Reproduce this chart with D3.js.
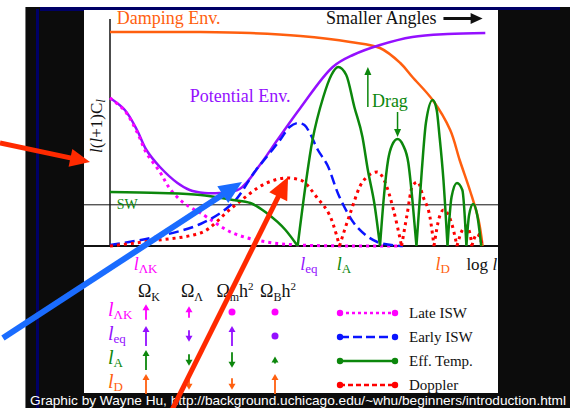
<!DOCTYPE html>
<html>
<head>
<meta charset="utf-8">
<script src="https://cdn.jsdelivr.net/npm/d3@7"></script>
<style>
  body { margin: 0; background: #fff; }
  svg { display: block; }
  text { font-family: "Liberation Serif", "Times New Roman", serif; }
  text.credit { font-family: "Liberation Sans", Arial, sans-serif; }
</style>
</head>
<body>
<div id="chart"></div>
<script>
// x values are log10(l), y values are l(l+1)C_l in arbitrary units
const dampingEnv = [[0.70,107],[1.37,107],[1.74,106.5],[2.11,105],[2.48,102],[2.70,99],[2.85,91.5],[2.94,84.5],[3.09,73],[3.22,58],[3.29,43],[3.37,27],[3.43,13],[3.46,0]];
const potentialEnv = [[0.70,74],[0.81,68],[0.90,58],[0.97,48],[1.07,39.5],[1.20,31.5],[1.29,28],[1.40,26.5],[1.51,26.5],[1.66,28.5],[1.81,40.5],[1.94,53],[2.11,69],[2.35,89.5],[2.50,95.5],[2.70,100.5],[2.94,104.5],[3.20,106],[3.48,106.5]];
const lateISW = [[0.70,74],[0.81,67.5],[0.90,57],[0.97,46.5],[1.07,37],[1.14,29],[1.22,23],[1.29,19.5],[1.37,16.5],[1.61,6.5],[1.86,2],[2.11,0.5],[2.48,0],[2.85,0]];
const earlyISW = [[0.70,0.5],[1.00,4],[1.37,11],[1.61,21.5],[1.77,37],[1.86,44.5],[1.96,53],[2.03,59.5],[2.09,61.5],[2.14,60.5],[2.18,56.5],[2.24,48],[2.31,40.5],[2.40,24.5],[2.53,9.5],[2.68,2],[2.87,0]];
const dopplerArches = [
  [[0.70,0],[1.00,2.5],[1.37,6.5],[1.61,19.5],[1.86,31.5],[2.01,34],[2.11,33],[2.23,24.5],[2.35,11.5],[2.40,0]],
  [[2.40,0],[2.48,16.5],[2.57,32],[2.68,37],[2.74,31.5],[2.80,18],[2.86,0]],
  [[2.86,0],[2.90,15.5],[2.94,30],[2.98,32],[3.02,24.5],[3.07,14.5],[3.10,0]],
  [[3.10,0],[3.14,14.5],[3.17,18],[3.23,11.5],[3.27,0]],
  [[3.27,0],[3.31,8],[3.34,10],[3.37,5],[3.38,0]],
  [[3.38,0],[3.42,6],[3.46,0]]
];
const effTempArches = [
  [[0.70,27],[1.07,26.5],[1.37,25.5],[1.61,23],[1.74,21.5],[1.86,16.5],[2.00,8],[2.09,0]],
  [[2.09,0],[2.20,53],[2.28,74.5],[2.34,85.5],[2.39,89.5],[2.45,85.5],[2.51,69.5],[2.57,54.5],[2.61,38],[2.66,20.5],[2.70,0]],
  [[2.70,0],[2.73,25.5],[2.76,43],[2.79,50.5],[2.83,53.5],[2.87,50.5],[2.91,41.5],[2.94,23],[2.97,0]],
  [[2.97,0],[3.01,38],[3.04,61.5],[3.09,73],[3.12,68],[3.14,55.5],[3.17,33],[3.20,0]],
  [[3.20,0],[3.23,24.5],[3.27,31.5],[3.31,28],[3.34,0]],
  [[3.34,0],[3.36,15.5],[3.39,21],[3.42,15.5],[3.45,0]]
];
const swLevel = 20.6;

// characteristic scales marked on the axis
const scaleNames = ["ΛK", "eq", "A", "D"];
const scaleLogL = [0.96, 2.17, 2.43, 3.16];

// dependence of each scale on the parameters: sign = direction, size = strength, 0 = none
const params = ["K", "Λ", "m", "B"];
const dependence = [
  [3, 2, 0, 0],
  [4, -2, 4, 0],
  [4, -2, -3, 1],
  [4, -2, -2, 4]
];
const legendNames = ["Late ISW", "Early ISW", "Eff. Temp.", "Doppler"];

// ---- styles ----
const C = {
  magenta: "#ff00ff", purple: "#9410ff", blue: "#0a14ff", green: "#0c870c",
  red: "#ff0000", orange: "#ff5f0f", bigBlue: "#1a6cff", bigRed: "#ff2a00",
  black: "#0c0c0c", navy: "#000066"
};
const rowColors = [C.magenta, C.purple, C.green, C.orange];

const svg = d3.select("#chart").append("svg").attr("width", 570).attr("height", 408);

const x = d3.scaleLinear().domain([0.7, 3.5]).range([110, 488]);
const y = d3.scaleLinear().domain([0, 120]).range([246, 6]);

// ---- frame ----
svg.append("rect").attr("x", 26).attr("y", 7).attr("width", 58).attr("height", 401).attr("fill", C.black);
svg.append("rect").attr("x", 498).attr("y", 7).attr("width", 72).attr("height", 401).attr("fill", C.black);
svg.append("rect").attr("x", 26).attr("y", 393).attr("width", 544).attr("height", 15).attr("fill", C.black);
svg.append("rect").attr("x", 36).attr("y", 9).attr("width", 3).attr("height", 399).attr("fill", C.navy);
svg.append("rect").attr("x", 40).attr("y", 7).attr("width", 44).attr("height", 4).attr("fill", C.navy);
svg.append("rect").attr("x", 84).attr("y", 7).attr("width", 476).attr("height", 3).attr("fill", C.navy);
svg.append("line").attr("x1", 25.5).attr("x2", 25.5).attr("y1", 7).attr("y2", 408).attr("stroke", "#777");

// ---- axes ----
svg.append("line").attr("x1", 84).attr("x2", 498).attr("y1", y(swLevel)).attr("y2", y(swLevel))
  .attr("stroke", "#111").attr("stroke-width", 1);
svg.append("line").attr("x1", x(0.7)).attr("x2", x(0.7)).attr("y1", y(113.5)).attr("y2", y(0))
  .attr("stroke", "#111").attr("stroke-width", 1.5);

const xAxis = svg.append("g").attr("transform", `translate(0,${y(0)})`)
  .call(d3.axisBottom(x).tickValues(scaleLogL).tickSize(0).tickFormat(""));
xAxis.select(".domain").remove();
xAxis.selectAll(".tick text").each(function (d, i) {
  const t = d3.select(this).attr("y", 24).attr("dy", 0)
    .attr("font-size", 18).attr("fill", rowColors[i]);
  t.append("tspan").attr("font-style", "italic").text("l");
  t.append("tspan").attr("font-size", 13).attr("dy", 3).text(scaleNames[i]);
});
svg.append("line").attr("x1", 84).attr("x2", 498).attr("y1", y(0)).attr("y2", y(0))
  .attr("stroke", "#111").attr("stroke-width", 2);

const logLabel = svg.append("text").attr("x", x(3.34)).attr("y", y(0) + 24)
  .attr("font-size", 17).attr("fill", "#111");
logLabel.append("tspan").text("log ");
logLabel.append("tspan").attr("font-style", "italic").text("l");

const yLabel = svg.append("text").attr("transform", "translate(102,126) rotate(-90)")
  .attr("text-anchor", "middle").attr("font-size", 17).attr("fill", "#111");
yLabel.append("tspan").attr("font-style", "italic").text("l");
yLabel.append("tspan").text("(");
yLabel.append("tspan").attr("font-style", "italic").text("l");
yLabel.append("tspan").text("+1)C");
yLabel.append("tspan").attr("font-style", "italic").attr("font-size", 13).attr("dy", 3).text("l");

// ---- curves ----
const line = d3.line().x(d => x(d[0])).y(d => y(d[1])).curve(d3.curveMonotoneX);
const smooth = d3.line().x(d => x(d[0])).y(d => y(d[1])).curve(d3.curveCatmullRom.alpha(0.5));

svg.append("path").attr("d", smooth(dampingEnv)).attr("fill", "none")
  .attr("stroke", C.orange).attr("stroke-width", 2.5);
svg.append("path").attr("d", smooth(potentialEnv)).attr("fill", "none")
  .attr("stroke", C.purple).attr("stroke-width", 2.5);
svg.append("path").attr("d", smooth(lateISW)).attr("fill", "none")
  .attr("stroke", C.magenta).attr("stroke-width", 3).attr("stroke-dasharray", "3,4");
svg.append("path").attr("d", smooth(earlyISW)).attr("fill", "none")
  .attr("stroke", C.blue).attr("stroke-width", 2.5).attr("stroke-dasharray", "10,5");
svg.append("path").attr("d", dopplerArches.map(a => line(a)).join(""))
  .attr("fill", "none").attr("stroke", C.red).attr("stroke-width", 3).attr("stroke-dasharray", "3,4");
svg.append("path").attr("d", effTempArches.map(a => line(a)).join(""))
  .attr("fill", "none").attr("stroke", C.green).attr("stroke-width", 2.5);

function arrow(g, x1, y1, x2, y2, color, w, hl, hw) {
  const dx = x2 - x1, dy = y2 - y1, len = Math.hypot(dx, dy);
  const ux = dx / len, uy = dy / len;
  const bx = x2 - ux * hl, by = y2 - uy * hl;
  g.append("line").attr("x1", x1).attr("y1", y1).attr("x2", bx + ux).attr("y2", by + uy)
    .attr("stroke", color).attr("stroke-width", w);
  g.append("path")
    .attr("d", `M${x2},${y2}L${bx - uy * hw / 2},${by + ux * hw / 2}L${bx + uy * hw / 2},${by - ux * hw / 2}Z`)
    .attr("fill", color);
}

// ---- annotations ----
svg.append("text").attr("x", x(0.75)).attr("y", y(111)).attr("font-size", 18)
  .attr("fill", C.orange).text("Damping Env.");
svg.append("text").attr("x", x(2.30)).attr("y", y(111)).attr("font-size", 18)
  .attr("fill", "#111").text("Smaller Angles");
arrow(svg, x(3.17), y(113.75), x(3.46), y(113.75), "#111", 3, 12, 11);
svg.append("text").attr("x", x(1.29)).attr("y", y(72)).attr("font-size", 18)
  .attr("fill", C.purple).text("Potential Env.");
svg.append("text").attr("x", x(2.64)).attr("y", y(69.5)).attr("font-size", 18)
  .attr("fill", C.green).text("Drag");
arrow(svg, x(2.61), y(69.5), x(2.61), y(89.5), C.green, 1.5, 8, 7);
arrow(svg, x(2.83), y(67), x(2.83), y(54.5), C.green, 1.5, 8, 7);
svg.append("text").attr("x", x(0.75)).attr("y", y(18.5)).attr("font-size", 14)
  .attr("fill", C.green).text("SW");

// ---- dependence table ----
const col = d3.scalePoint().domain(params).range([146, 275]);
const row = d3.scalePoint().domain(scaleNames).range([312, 384]);
const arrowLen = d3.scaleLinear().domain([1, 4]).range([7, 20]);

params.forEach(p => {
  const t = svg.append("text").attr("x", col(p) + 3).attr("y", 297)
    .attr("text-anchor", "middle").attr("font-size", 18).attr("fill", "#111");
  t.append("tspan").text("Ω");
  t.append("tspan").attr("font-size", 12).attr("dy", 4).text(p);
  if (p === "m" || p === "B") {
    t.append("tspan").attr("dy", -4).text("h");
    t.append("tspan").attr("font-size", 11).attr("dy", -7).text("2");
  }
});

scaleNames.forEach((s, i) => {
  const t = svg.append("text").attr("x", 108).attr("y", row(s) + 4)
    .attr("font-size", 20).attr("fill", rowColors[i]);
  t.append("tspan").attr("font-style", "italic").text("l");
  t.append("tspan").attr("font-size", 13).attr("dy", 3).text(s);

  dependence[i].forEach((v, j) => {
    const cx = col(params[j]), cy = row(s);
    if (v === 0) {
      svg.append("circle").attr("cx", cx).attr("cy", cy).attr("r", 3.5).attr("fill", rowColors[i]);
    } else {
      const L = arrowLen(Math.abs(v)), dir = Math.sign(v);
      arrow(svg, cx, cy + dir * L / 2, cx, cy - dir * L / 2, rowColors[i], 1.8, 6, 7);
    }
  });
});

// ---- legend ----
const legendStyles = [
  { color: C.magenta, dash: "3,3" },
  { color: C.blue, dash: "9,4" },
  { color: C.green, dash: null },
  { color: C.red, dash: "5,3" }
];
legendNames.forEach((name, i) => {
  const cy = row(scaleNames[i]) + 1;
  const st = legendStyles[i];
  svg.append("line").attr("x1", 340).attr("x2", 395).attr("y1", cy).attr("y2", cy)
    .attr("stroke", st.color).attr("stroke-width", 2.5).attr("stroke-dasharray", st.dash);
  [340, 395].forEach(px => svg.append("circle").attr("cx", px).attr("cy", cy).attr("r", 3.2).attr("fill", st.color));
  svg.append("text").attr("x", 409).attr("y", cy + 5).attr("font-size", 15).attr("fill", "#111").text(name);
});

// ---- credit ----
svg.append("text").attr("class", "credit").attr("x", 30).attr("y", 405)
  .attr("font-size", 13)
  .attr("textLength", 536).attr("lengthAdjust", "spacingAndGlyphs")
  .attr("fill", "#ffffff")
  .text("Graphic by Wayne Hu, http://background.uchicago.edu/~whu/beginners/introduction.html");

// ---- pointer arrows ----
arrow(svg, x(-0.115), y(51.5), x(0.552), y(42), C.bigRed, 5, 20, 18);
arrow(svg, x(-0.093), y(-46), x(1.678), y(32), C.bigBlue, 6, 23, 20);
arrow(svg, x(1.159), y(-82), x(2.019), y(34.5), C.bigRed, 5, 22, 20);
</script>
</body>
</html>
